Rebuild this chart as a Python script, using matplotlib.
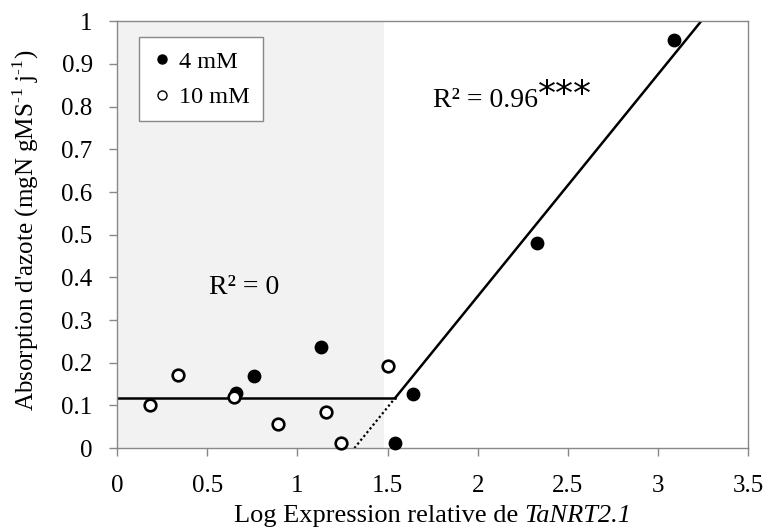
#!/usr/bin/env python3

"""Absorption d'azote vs expression relative de TaNRT2.1."""

import matplotlib
matplotlib.use('Agg')
import matplotlib.pyplot as plt
from matplotlib.lines import Line2D

# 4 mM
x_4mm = [0.66, 0.76, 1.13, 1.54, 1.64, 2.33, 3.09]
y_4mm = [0.130, 0.168, 0.238, 0.012, 0.126, 0.480, 0.955]

# 10 mM
x_10mm = [0.18, 0.34, 0.65, 0.89, 1.16, 1.24, 1.50]
y_10mm = [0.100, 0.172, 0.120, 0.056, 0.084, 0.012, 0.192]

# piecewise fit: plateau, then linear rise
plateau = 0.118
slope = 0.52
x_zero = 1.316
breakpoint = 1.543
x_top = 3.24
shade_end = 1.48

x_ticks = [0, 0.5, 1, 1.5, 2, 2.5, 3, 3.5]
x_ticklabels = ['0', '0.5', '1', '1.5', '2', '2.5', '3', '3.5']
y_ticks = [0, 0.1, 0.2, 0.3, 0.4, 0.5, 0.6, 0.7, 0.8, 0.9, 1]
y_ticklabels = ['0', '0.1', '0.2', '0.3', '0.4', '0.5', '0.6', '0.7', '0.8', '0.9', '1']


def main():
    plt.rcParams['font.family'] = ['Liberation Serif', 'DejaVu Serif']
    plt.rcParams['mathtext.fontset'] = 'custom'
    plt.rcParams['mathtext.rm'] = 'Liberation Serif'

    fig = plt.figure(figsize=(7.65, 5.31), dpi=100)
    ax = fig.add_axes([0.153, 0.156, 0.825, 0.804])

    ax.axvspan(0, shade_end, color='#f2f2f2', zorder=0, lw=0)

    line_y = lambda x: slope * (x - x_zero)
    ax.plot([0, breakpoint], [plateau, plateau], color='black', lw=1.8, zorder=2)
    ax.plot([breakpoint, x_top], [line_y(breakpoint), line_y(x_top)],
            color='black', lw=1.8, zorder=2)
    ax.plot([x_zero, breakpoint], [0, line_y(breakpoint)],
            color='black', lw=1.6, ls=(0, (1, 1.2)), zorder=2)

    ax.scatter(x_4mm, y_4mm, s=80, color='black', zorder=3, clip_on=False)
    ax.scatter(x_10mm, y_10mm, s=70, facecolor='white', edgecolor='black',
               linewidths=1.9, zorder=3, clip_on=False)

    ax.text(0.705, 0.36, 'R² = 0', fontsize=20, ha='center', va='baseline')
    t = ax.text(1.754, 0.80, 'R² = 0.96', fontsize=20, ha='left', va='baseline')
    ax.annotate('***', xycoords=t, xy=(1.0, 0.72), fontsize=26,
                fontfamily='DejaVu Sans', ha='left', va='center')

    ax.set_xlim(0, 3.5)
    ax.set_ylim(0, 1)
    ax.set_xticks(x_ticks)
    ax.set_xticklabels(x_ticklabels)
    ax.set_yticks(y_ticks)
    ax.set_yticklabels(y_ticklabels)
    ax.tick_params(labelsize=18, color='#888888', length=5.5, width=1)
    ax.tick_params(axis='y', pad=12)
    ax.tick_params(axis='x', pad=14)
    for spine in ax.spines.values():
        spine.set_color('#888888')
        spine.set_linewidth(1)

    # x label in two parts so the gene name is fully italic
    label_y = 0.156 - 0.132 * 0.804
    part1 = fig.text(0, label_y, 'Log Expression relative de ', fontsize=19,
                     ha='left', va='top')
    part2 = ax.annotate('TaNRT2.1', xycoords=part1, xy=(1, 0), fontsize=19,
                        style='italic', ha='left', va='bottom')
    fig.canvas.draw()
    renderer = fig.canvas.get_renderer()
    w1 = part1.get_window_extent(renderer).width
    w2 = part2.get_window_extent(renderer).width
    center = (0.153 + 0.825 / 2) * fig.bbox.width
    part1.set_x((center - (w1 + w2) / 2) / fig.bbox.width)

    ax.set_ylabel("Absorption d'azote (mgN gMS$^{\\text{-1}}$ j$^{\\text{-1}}$)",
                  fontsize=18)
    ax.yaxis.set_label_coords(-0.12, 0.51)

    handles = [
        Line2D([], [], marker='o', ls='', color='black', markersize=6.5),
        Line2D([], [], marker='o', ls='', markerfacecolor='white',
               markeredgecolor='black', markeredgewidth=1, markersize=6.5),
    ]
    leg = ax.legend(handles, ['4 mM', '10 mM'], loc='upper left',
                    bbox_to_anchor=(0.035, 0.9625), fontsize=17.5, fancybox=False,
                    framealpha=1, edgecolor='#888888', handlelength=0.8,
                    handletextpad=0.3, borderpad=0.55, labelspacing=0.55,
                    borderaxespad=0)
    leg.get_frame().set_linewidth(1)

    fig.savefig('out.png', dpi=100)


if __name__ == '__main__':
    main()
